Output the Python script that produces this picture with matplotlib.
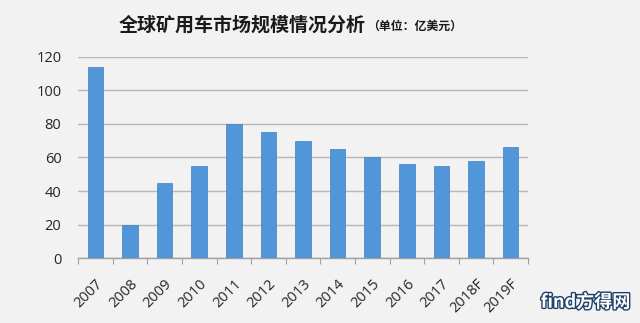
import matplotlib.pyplot as plt
import matplotlib.patheffects as pe

plt.rcParams['font.family'] = ['Noto Sans CJK SC', 'DejaVu Sans']

years = ["2007", "2008", "2009", "2010", "2011", "2012", "2013",
         "2014", "2015", "2016", "2017", "2018F", "2019F"]
market = [114, 20, 45, 55, 80, 75, 70, 65, 60, 56, 55, 58, 66]

fig = plt.figure(figsize=(6.4, 3.23), dpi=100, facecolor="#f2f2f2")
ax = fig.add_axes([0.122, 0.201, 0.703, 0.623])
ax.set_facecolor("#f2f2f2")

x = range(len(years))
ax.bar(x, market, width=0.45, color="#5096d8", edgecolor="#3f7fc0", linewidth=0.5, zorder=3)

ax.set_xlim(-0.5, len(years) - 0.5)
ax.set_ylim(0, 120)
ax.set_yticks(range(0, 121, 20))
ax.grid(axis="y", color="#b8b8b8", linewidth=1, zorder=0)
ax.set_xticks([i - 0.5 for i in range(len(years) + 1)], minor=False)
ax.set_xticklabels([])
ax.set_xticks(list(x), minor=True)
ax.set_xticklabels(years, minor=True, rotation=45, ha="right", rotation_mode="anchor",
                   fontsize=10.5, color="#262626", fontfamily="Open Sans")
ax.tick_params(axis="x", which="major", length=4, color="#a0a0a0")
ax.tick_params(axis="x", which="minor", length=0, pad=13)
ax.tick_params(axis="y", length=0, labelsize=10.5, labelcolor="#262626", pad=12)
for lab in ax.get_yticklabels():
    lab.set_fontfamily("Open Sans")
for s in ["top", "right", "left"]:
    ax.spines[s].set_visible(False)
ax.spines["bottom"].set_color("#a0a0a0")
ax.spines["bottom"].set_linewidth(1)

fig.text(0.186, 0.922, "全球矿用车市场规模情况分析", fontsize=13.7, fontweight="bold",
         color="#1a1a1a", va="center", ha="left")
fig.text(0.574, 0.918, "（单位：亿美元）", fontsize=8.6, fontweight="bold",
         color="#1a1a1a", va="center", ha="left")

fig.text(0.985, 0.035, "find方得网", fontsize=13, fontweight="bold", color="white",
         ha="right", va="bottom",
         path_effects=[pe.withStroke(linewidth=2, foreground="#1f3f66")])

fig.savefig("out.png", dpi=100, facecolor=fig.get_facecolor())
